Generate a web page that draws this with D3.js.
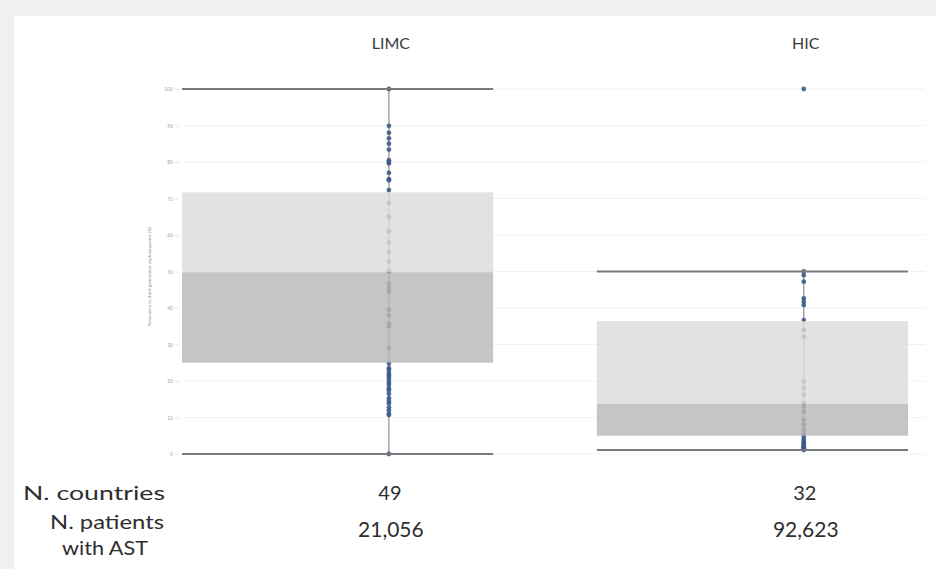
<!DOCTYPE html>
<html>
<head>
<meta charset="utf-8">
<script src="https://cdn.jsdelivr.net/npm/d3@7"></script>
<style>
  html, body { margin: 0; padding: 0; background: #f0f0f0; }
  svg { display: block; }
</style>
</head>
<body>
<svg id="chart" width="936" height="569"></svg>
<script>
// Income groups
const categories = ["LIMC", "HIC"];

// Country-level resistance percentages per group
const limcValues = [100, 89.9, 88, 86.5, 85, 83.4, 80.5, 80, 79.6, 77, 75.3, 75, 72.3,
  68.8, 65, 61, 58, 55.4, 52.7, 50, 50, 46.7, 45.5, 44.5, 39.5, 38, 35.8, 35, 29,
  24.8, 23.5, 23, 22.2, 21.6, 21, 20.3, 19.5, 18.9, 18, 17.5, 16.5, 15.3, 14.5,
  13.9, 12.8, 12, 11, 10.7, 0];
const hicValues = [100, 50, 49, 47.2, 42.6, 41.7, 40.8, 36.7, 34, 32.1, 19.8, 18,
  16.2, 13.9, 13, 11.6, 9.3, 8, 6.6, 5.5, 4.7, 4, 3.4, 3, 2.8, 2.5, 2.2, 2, 1.8,
  1.6, 1.4, 1.1];

// Box summary per group (same order as categories)
const lowerWhisker = [0, 1.1];
const q1 = [25, 5];
const median = [49.8, 13.7];
const q3 = [71.7, 36.4];
const upperWhisker = [100, 50];

// Table under the chart
const nCountries = ["49", "32"];
const nPatients = ["21,056", "92,623"];

// Axis ticks
const yTicks = [0, 10, 20, 30, 40, 50, 60, 70, 80, 90, 100];
const yTitle = "Resistance to third-generation cephalosporins (%)";

const svg = d3.select("#chart");
const font = "Lato, 'Open Sans', sans-serif";

// white card
svg.append("rect").attr("x", 14).attr("y", 16).attr("width", 922).attr("height", 553).attr("fill", "#ffffff");

const y = d3.scaleLinear().domain([0, 100]).range([454, 89]);
const x = d3.scaleBand().domain(categories).range([182, 908]).paddingInner(0.25).paddingOuter(0);
const dotX = c => x(c) + x.bandwidth() * 0.665;

// grid
svg.append("g").selectAll("line").data(yTicks).join("line")
  .attr("x1", 184).attr("x2", 925)
  .attr("y1", d => y(d)).attr("y2", d => y(d))
  .attr("stroke", "#f1f1f1").attr("stroke-width", 1);

// y axis labels
const yAxis = d3.axisLeft(y).tickValues(yTicks).tickSize(4).tickPadding(2);
const gy = svg.append("g").attr("transform", "translate(179,0)").call(yAxis);
gy.select(".domain").remove();
gy.selectAll(".tick line").attr("stroke", "#e2e2e2");
gy.selectAll(".tick text").attr("fill", "#a8a8a8").style("font-size", "5px").style("font-family", font);

svg.append("text")
  .attr("transform", `translate(151,${y(50) + 5}) rotate(-90)`)
  .attr("text-anchor", "middle")
  .attr("fill", "#8a8a8a")
  .style("font-size", "4.6px").style("font-family", font)
  .text(yTitle);

const groups = categories.map((c, i) => ({
  cat: c,
  values: i === 0 ? limcValues : hicValues,
  lw: lowerWhisker[i], q1: q1[i], med: median[i], q3: q3[i], uw: upperWhisker[i]
}));

// vertical whisker stems
svg.append("g").selectAll("line").data(groups).join("line")
  .attr("x1", d => dotX(d.cat)).attr("x2", d => dotX(d.cat))
  .attr("y1", d => y(d.lw)).attr("y2", d => y(d.uw))
  .attr("stroke", "#8c8c8c").attr("stroke-width", 1.2);

// country points
groups.forEach(g => {
  svg.append("g").selectAll("circle").data(g.values).join("circle")
    .attr("cx", dotX(g.cat)).attr("cy", d => y(d)).attr("r", 2.4)
    .attr("fill", "#3b5a87").attr("opacity", 0.88);
});

// boxes (upper and lower halves), slightly translucent over the points
const boxes = svg.append("g");
boxes.selectAll("rect.upper").data(groups).join("rect").attr("class", "upper")
  .attr("x", d => x(d.cat)).attr("width", x.bandwidth())
  .attr("y", d => y(d.q3)).attr("height", d => y(d.med) - y(d.q3))
  .attr("fill", "#dcdcdc").attr("fill-opacity", 0.82);
boxes.selectAll("rect.lower").data(groups).join("rect").attr("class", "lower")
  .attr("x", d => x(d.cat)).attr("width", x.bandwidth())
  .attr("y", d => y(d.med)).attr("height", d => y(d.q1) - y(d.med))
  .attr("fill", "#b8b8b8").attr("fill-opacity", 0.82);

// whisker caps
["lw", "uw"].forEach(k => {
  svg.append("g").selectAll("line").data(groups).join("line")
    .attr("x1", d => x(d.cat)).attr("x2", d => x(d.cat) + x.bandwidth())
    .attr("y1", d => y(d[k])).attr("y2", d => y(d[k]))
    .attr("stroke", "#7a7a7a").attr("stroke-width", 1.8);
});

// group headers
svg.append("g").selectAll("text").data(categories).join("text")
  .attr("x", d => dotX(d) + 2).attr("y", 49)
  .attr("text-anchor", "middle").attr("fill", "#3a3a3a")
  .style("font-size", "16px").style("font-family", font)
  .text(d => d);

// table
const tbl = svg.append("g").style("font-family", font).attr("fill", "#2e2e2e").style("font-size", "20px");
const rowLabel = (txt, cx, cy, len) => tbl.append("text")
  .attr("x", cx - len / 2).attr("y", cy)
  .attr("textLength", len).attr("lengthAdjust", "spacingAndGlyphs")
  .text(txt);
rowLabel("N. countries", 94, 500, 142);
rowLabel("N. patients", 107, 529, 114);
rowLabel("with AST", 105, 555, 86);
tbl.selectAll("text.nc").data(categories).join("text").attr("class", "nc")
  .attr("x", d => dotX(d) + 1).attr("y", 500).attr("text-anchor", "middle")
  .text((d, i) => nCountries[i]);
tbl.selectAll("text.np").data(categories).join("text").attr("class", "np")
  .attr("x", d => dotX(d) + 2).attr("y", 537).attr("text-anchor", "middle")
  .style("font-size", "21px")
  .text((d, i) => nPatients[i]);
</script>
</body>
</html>
